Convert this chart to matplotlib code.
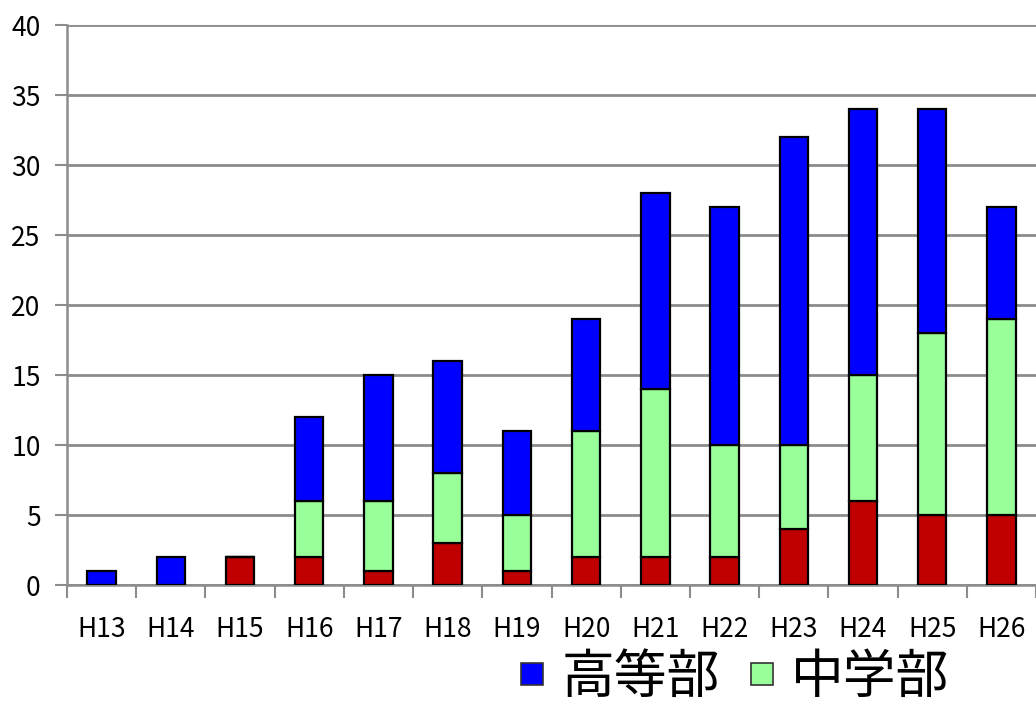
import matplotlib
matplotlib.use("Agg")
import matplotlib.pyplot as plt
from matplotlib.lines import Line2D
import numpy as np

categories = ["H13", "H14", "H15", "H16", "H17", "H18", "H19", "H20",
              "H21", "H22", "H23", "H24", "H25", "H26"]
red_vals   = [0, 0, 2, 2, 1, 3, 1, 2, 2, 2, 4, 6, 5, 5]
green_vals = [0, 0, 0, 4, 5, 5, 4, 9, 12, 8, 6, 9, 13, 14]
blue_vals  = [1, 2, 0, 6, 9, 8, 6, 8, 14, 17, 22, 19, 16, 8]
yticks = [0, 5, 10, 15, 20, 25, 30, 35, 40]
legend_labels = ["高等部", "中学部"]

plt.rcParams['font.family'] = ['Noto Sans CJK JP', 'DejaVu Sans']

fig = plt.figure(figsize=(10.36, 7.08), dpi=100)
ax = fig.add_axes([67/1036, 1-585/708, (1036-67)/1036, 560/708])

x = np.arange(len(categories))
red = np.array(red_vals)
green = np.array(green_vals)
blue = np.array(blue_vals)
w = 0.41
kw = dict(width=w, edgecolor='black', linewidth=1.6, zorder=3)
ax.bar(x, red, color='#c00000', **kw)
ax.bar(x, green, bottom=red, color='#99ff99', **kw)
ax.bar(x, blue, bottom=red + green, color='#0000ff', **kw)

ax.set_xlim(-0.5, len(categories) - 0.5)
ax.set_ylim(0, 40)
ax.set_yticks(yticks)
ax.set_yticklabels([str(v) for v in yticks], fontsize=19)
ax.yaxis.grid(True, color='#8c8c8c', linewidth=2, zorder=0)
ax.set_axisbelow(True)

ax.set_xticks(x)
ax.set_xticklabels(categories, fontsize=19)
ax.set_xticks(np.arange(len(categories) + 1) - 0.5, minor=True)
ax.tick_params(axis='x', which='major', length=0, pad=22)
ax.tick_params(axis='x', which='minor', length=9, width=1.5, color='#8c8c8c')
ax.tick_params(axis='y', length=9, width=1.5, color='#8c8c8c', pad=10)

for s in ['top', 'right']:
    ax.spines[s].set_visible(False)
for s in ['left', 'bottom']:
    ax.spines[s].set_color('#8c8c8c')
    ax.spines[s].set_linewidth(1.8)

handles = [Line2D([], [], linestyle='none', marker='s', markersize=16,
                  markerfacecolor='#0000ff', markeredgecolor='#333333', markeredgewidth=1.2),
           Line2D([], [], linestyle='none', marker='s', markersize=16,
                  markerfacecolor='#99ff99', markeredgecolor='#333333', markeredgewidth=1.2)]
fig.legend(handles, legend_labels, loc='center', bbox_to_anchor=(734/1036, 1-677/708),
           ncol=2, frameon=False, prop={'family': ['Noto Sans CJK JP'], 'size': 38},
           handlelength=0.5, handletextpad=0.3, columnspacing=0.55)

fig.savefig("out.png", dpi=100)
